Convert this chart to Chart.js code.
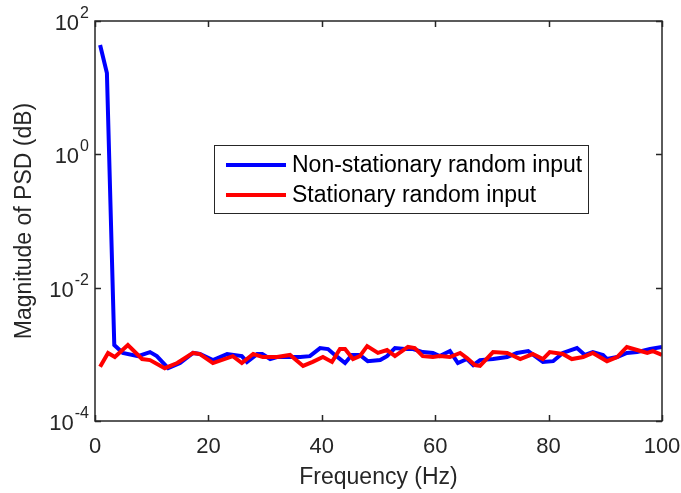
<!DOCTYPE html>
<html>
<head>
  <meta charset="utf-8">
  <title>PSD - stationary vs non-stationary input</title>
  <script src="https://cdn.jsdelivr.net/npm/chart.js"></script>
  <style>
    body {
      margin: 0;
      background: #ffffff;
    }
  </style>
</head>
<body>
  <canvas id="chart" width="681" height="493"></canvas>

  <script>
    // Non-stationary random input (blue)
    var nsFreq = [0.9, 2.1, 3.4, 4.9, 7.6, 9.7, 10.9, 12.9, 15.0, 17.3, 18.5, 20.8, 23.3, 25.9, 26.8,
      28.6, 29.5, 30.9, 32.1, 34.4, 36.2, 37.9, 39.7, 41.1, 42.3, 44.1, 45.3, 46.7, 48.1, 50.3,
      51.5, 52.9, 54.7, 56.1, 57.8, 59.6, 60.8, 62.6, 64.0, 65.6, 66.7, 67.9, 70.2, 72.7, 74.4,
      76.4, 77.6, 79.0, 80.8, 82.5, 85.0, 86.4, 87.8, 89.6, 90.3, 92.1, 93.8, 95.6, 97.9, 100];
    var nsPsd = [43.6, 16.6, 1.38e-3, 1.05e-3, 9.4e-4, 1.08e-3, 9.4e-4, 6.2e-4, 7.4e-4, 1.05e-3, 1.01e-3, 8.2e-4, 1.01e-3, 9.4e-4, 7.7e-4,
      1.01e-3, 1.01e-3, 8.5e-4, 9.1e-4, 9.1e-4, 9.1e-4, 9.4e-4, 1.24e-3, 1.20e-3, 9.8e-4, 7.4e-4, 9.8e-4, 9.8e-4, 7.9e-4, 8.2e-4,
      9.4e-4, 1.24e-3, 1.20e-3, 1.20e-3, 1.08e-3, 1.05e-3, 9.4e-4, 1.12e-3, 7.4e-4, 8.5e-4, 6.9e-4, 8.2e-4, 8.5e-4, 9.1e-4, 1.05e-3,
      1.12e-3, 9.4e-4, 7.7e-4, 7.9e-4, 1.05e-3, 1.24e-3, 9.8e-4, 1.08e-3, 9.8e-4, 8.5e-4, 9.1e-4, 1.05e-3, 1.08e-3, 1.20e-3, 1.29e-3];

    // Stationary random input (red)
    var sFreq = [0.9, 2.3, 3.5, 5.8, 8.3, 9.7, 12.3, 14.5, 17.3, 18.5, 20.8, 24.3, 25.9, 27.9, 29.6,
      32.1, 34.4, 36.7, 38.4, 40.2, 41.8, 43.2, 44.1, 45.5, 46.7, 48.0, 49.9, 51.5, 52.9, 55.2,
      56.4, 57.8, 59.6, 60.8, 62.6, 64.4, 65.6, 67.0, 67.9, 70.2, 72.7, 75.0, 77.2, 79.0, 80.2,
      82.5, 84.1, 86.1, 87.8, 90.3, 92.1, 93.8, 95.6, 97.4, 98.4, 100];
    var sPsd = [6.5e-4, 1.05e-3, 9.1e-4, 1.38e-3, 8.5e-4, 8.2e-4, 6.2e-4, 7.4e-4, 1.05e-3, 1.01e-3, 7.4e-4, 9.4e-4, 7.4e-4, 1.01e-3, 9.1e-4,
      9.1e-4, 9.8e-4, 6.7e-4, 7.7e-4, 9.1e-4, 7.7e-4, 1.20e-3, 1.20e-3, 8.5e-4, 9.4e-4, 1.33e-3, 1.05e-3, 1.16e-3, 9.4e-4, 1.29e-3,
      1.24e-3, 9.4e-4, 9.1e-4, 9.4e-4, 9.1e-4, 1.05e-3, 8.8e-4, 6.9e-4, 6.7e-4, 1.08e-3, 1.05e-3, 8.5e-4, 1.01e-3, 8.5e-4, 1.08e-3,
      1.01e-3, 8.5e-4, 9.1e-4, 1.05e-3, 7.9e-4, 9.1e-4, 1.29e-3, 1.16e-3, 1.05e-3, 1.12e-3, 9.8e-4];

    var xTicks = [0, 20, 40, 60, 80, 100];
    var yExps = [-4, -2, 0, 2];

    var FONT = '"Liberation Sans", Arial, Helvetica, sans-serif';
    var AXIS_COLOR = '#262626';

    function toPoints(xs, ys) {
      return xs.map(function (f, i) { return { x: f, y: ys[i] }; });
    }

    // MATLAB-like box, inward ticks, labels and legend
    var matlabAxes = {
      id: 'matlabAxes',
      afterDatasetsDraw: function (chart) {
        var ctx = chart.ctx;
        var a = chart.chartArea;
        var xs = chart.scales.x;
        var ys = chart.scales.y;
        var tick = 6;

        ctx.save();
        ctx.strokeStyle = AXIS_COLOR;
        ctx.lineWidth = 1.5;
        ctx.strokeRect(a.left, a.top, a.right - a.left, a.bottom - a.top);

        ctx.beginPath();
        xTicks.forEach(function (v) {
          var px = Math.round(xs.getPixelForValue(v)) + 0.5;
          ctx.moveTo(px, a.bottom); ctx.lineTo(px, a.bottom - tick);
          ctx.moveTo(px, a.top); ctx.lineTo(px, a.top + tick);
        });
        yExps.forEach(function (e) {
          var py = Math.round(ys.getPixelForValue(Math.pow(10, e))) + 0.5;
          ctx.moveTo(a.left, py); ctx.lineTo(a.left + tick, py);
          ctx.moveTo(a.right, py); ctx.lineTo(a.right - tick, py);
        });
        ctx.stroke();

        // x tick labels
        ctx.fillStyle = AXIS_COLOR;
        ctx.font = '22px ' + FONT;
        ctx.textAlign = 'center';
        ctx.textBaseline = 'middle';
        xTicks.forEach(function (v) {
          ctx.fillText(String(v), xs.getPixelForValue(v), a.bottom + 26);
        });

        // y tick labels with superscript exponents
        ctx.textAlign = 'left';
        ctx.textBaseline = 'alphabetic';
        yExps.forEach(function (e) {
          var py = ys.getPixelForValue(Math.pow(10, e));
          var exp = e < 0 ? '-' + Math.abs(e) : String(e);
          ctx.font = '16px ' + FONT;
          var w2 = ctx.measureText(exp).width;
          ctx.font = '22px ' + FONT;
          var w1 = ctx.measureText('10').width;
          var right = a.left - 6;
          ctx.fillText('10', right - w2 - w1 - 1, py + 9);
          ctx.font = '16px ' + FONT;
          ctx.fillText(exp, right - w2, py - 3);
        });

        // axis titles
        ctx.font = '23px ' + FONT;
        ctx.textAlign = 'center';
        ctx.textBaseline = 'middle';
        ctx.fillText('Frequency (Hz)', (a.left + a.right) / 2, a.bottom + 57);
        ctx.save();
        ctx.translate(25, (a.top + a.bottom) / 2);
        ctx.rotate(-Math.PI / 2);
        ctx.fillText('Magnitude of PSD (dB)', 0, 0);
        ctx.restore();

        // legend box
        var lx = 214, ly = 145, lw = 374, lh = 68;
        ctx.fillStyle = '#ffffff';
        ctx.fillRect(lx, ly, lw, lh);
        ctx.strokeStyle = '#262626';
        ctx.lineWidth = 1;
        ctx.strokeRect(lx + 0.5, ly + 0.5, lw, lh);
        var ds = chart.data.datasets;
        var rows = [ly + 20, ly + 50];
        ctx.font = '23px ' + FONT;
        ctx.textAlign = 'left';
        ctx.textBaseline = 'middle';
        [0, 1].forEach(function (i) {
          ctx.strokeStyle = ds[i].borderColor;
          ctx.lineWidth = 4;
          ctx.beginPath();
          ctx.moveTo(lx + 12, rows[i]);
          ctx.lineTo(lx + 72, rows[i]);
          ctx.stroke();
          ctx.fillStyle = '#000000';
          ctx.fillText(ds[i].label, lx + 78, rows[i] + 1);
        });
        ctx.restore();
      }
    };

    var ctx = document.getElementById('chart').getContext('2d');
    var chart = new Chart(ctx, {
      type: 'line',
      data: {
        datasets: [{
          label: 'Non-stationary random input',
          data: toPoints(nsFreq, nsPsd),
          borderColor: '#0000ff',
          borderWidth: 4,
          pointRadius: 0,
          fill: false,
          tension: 0,
          order: 1
        }, {
          label: 'Stationary random input',
          data: toPoints(sFreq, sPsd),
          borderColor: '#ff0000',
          borderWidth: 4,
          pointRadius: 0,
          fill: false,
          tension: 0,
          order: 0
        }]
      },
      options: {
        responsive: false,
        animation: false,
        devicePixelRatio: 1,
        layout: {
          padding: { left: 95, right: 19, top: 21, bottom: 72 }
        },
        plugins: {
          legend: { display: false },
          tooltip: { enabled: false }
        },
        scales: {
          x: {
            type: 'linear',
            min: 0,
            max: 100,
            display: false
          },
          y: {
            type: 'logarithmic',
            min: 1e-4,
            max: 1e2,
            display: false
          }
        }
      },
      plugins: [matlabAxes]
    });
  </script>
</body>
</html>
